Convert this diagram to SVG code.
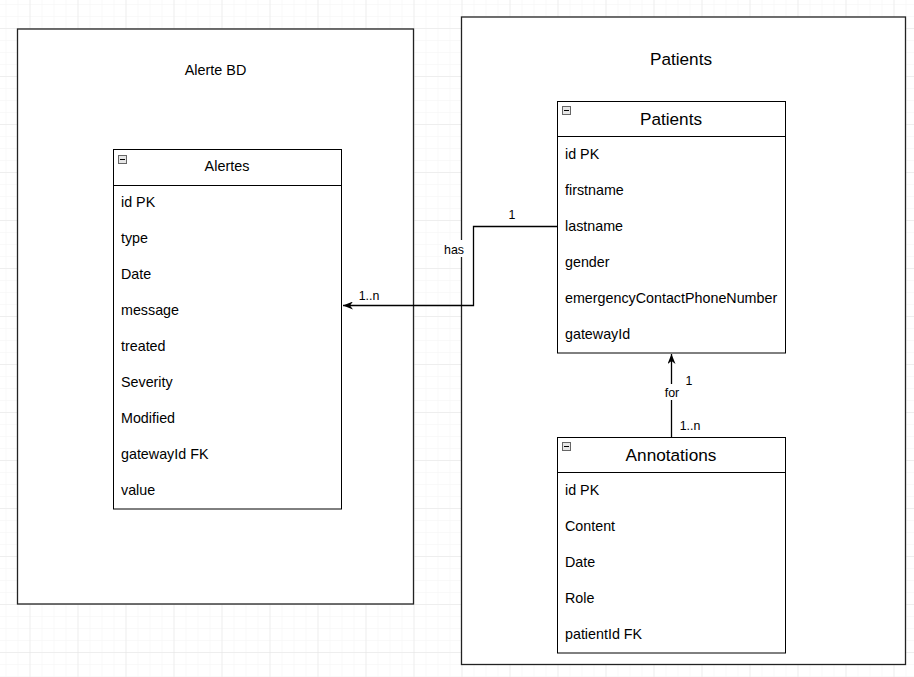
<svg xmlns="http://www.w3.org/2000/svg" width="914" height="677" viewBox="0 0 914 677">
<defs>
<pattern id="minor" x="5.5" y="4" width="12" height="12" patternUnits="userSpaceOnUse">
<path d="M 0 0 L 0 12 M 0 0 L 12 0" fill="none" stroke="#f3f3f3" stroke-width="1"/>
</pattern>
<pattern id="major" x="29.5" y="28" width="48" height="48" patternUnits="userSpaceOnUse">
<path d="M 0 0 L 0 48 M 0 0 L 48 0" fill="none" stroke="#e3e3e3" stroke-width="1"/>
</pattern>
<marker id="arrow" viewBox="0 0 10 8" refX="10" refY="4" markerWidth="10" markerHeight="8" markerUnits="userSpaceOnUse" orient="auto">
<path d="M 0 0 L 10 4 L 0 8 L 3 4 Z" fill="#000"/>
</marker>
<g id="minusIcon">
<rect x="0.5" y="0.5" width="8" height="8" fill="#e6e6e6" stroke="#666" stroke-width="1"/>
<line x1="2" y1="4.5" x2="7" y2="4.5" stroke="#000" stroke-width="1"/>
</g>
</defs>
<style>
text { font-family: "Liberation Sans", Arial, sans-serif; fill: #000; }
.box { fill: #fff; stroke: #000; stroke-width: 1; }
.cont { fill: #fff; stroke: #222; stroke-width: 1.3; }
.row { font-size: 14.3px; }
.hdr { font-size: 17.2px; text-anchor: middle; }
.hdrs { font-size: 14.4px; text-anchor: middle; }
.lbl { font-size: 12.4px; }
.edge { fill: none; stroke: #000; stroke-width: 1.3; }
</style>
<rect width="914" height="677" fill="#fff"/>
<rect width="914" height="677" fill="url(#minor)"/>
<rect width="914" height="677" fill="url(#major)"/>

<g id="container-alerte-bd">
<rect class="cont" x="17.5" y="29" width="396" height="575"/>
<text class="hdrs" x="215.5" y="75">Alerte BD</text>
</g>

<g id="container-patients">
<rect class="cont" x="461.5" y="17" width="444" height="647.5"/>
<text class="hdr" x="681" y="65">Patients</text>
</g>

<g id="table-alertes">
<rect class="box" x="113.5" y="149.5" width="228" height="359.5"/>
<line x1="113.5" y1="185.5" x2="341.5" y2="185.5" stroke="#000"/>
<use href="#minusIcon" x="118" y="155"/>
<text class="hdrs" x="227" y="171">Alertes</text>
<text class="row" x="121" y="207">id PK</text>
<text class="row" x="121" y="243">type</text>
<text class="row" x="121" y="279">Date</text>
<text class="row" x="121" y="315">message</text>
<text class="row" x="121" y="351">treated</text>
<text class="row" x="121" y="387">Severity</text>
<text class="row" x="121" y="423">Modified</text>
<text class="row" x="121" y="459">gatewayId FK</text>
<text class="row" x="121" y="495">value</text>
</g>

<g id="table-patients">
<rect class="box" x="557.5" y="101.5" width="228" height="251.5"/>
<line x1="557.5" y1="136.5" x2="785.5" y2="136.5" stroke="#000"/>
<use href="#minusIcon" x="562" y="106"/>
<text class="hdr" x="671" y="125">Patients</text>
<text class="row" x="565" y="159">id PK</text>
<text class="row" x="565" y="195">firstname</text>
<text class="row" x="565" y="231">lastname</text>
<text class="row" x="565" y="267">gender</text>
<text class="row" x="565" y="303">emergencyContactPhoneNumber</text>
<text class="row" x="565" y="339">gatewayId</text>
</g>

<g id="table-annotations">
<rect class="box" x="557.5" y="437.5" width="228" height="215.5"/>
<line x1="557.5" y1="472.5" x2="785.5" y2="472.5" stroke="#000"/>
<use href="#minusIcon" x="562" y="442"/>
<text class="hdr" x="671" y="461">Annotations</text>
<text class="row" x="565" y="495">id PK</text>
<text class="row" x="565" y="531">Content</text>
<text class="row" x="565" y="567">Date</text>
<text class="row" x="565" y="603">Role</text>
<text class="row" x="565" y="639">patientId FK</text>
</g>

<g id="connectors">
<path class="edge" d="M 557.5 226.5 L 473.5 226.5 L 473.5 305.5 L 343 305.5" marker-end="url(#arrow)"/>
<rect x="442" y="240" width="24" height="17" fill="#fff"/>
<text class="lbl" x="454" y="253.5" text-anchor="middle">has</text>
<text class="lbl" x="512" y="218.5" text-anchor="middle">1</text>
<text class="lbl" x="369" y="299.5" text-anchor="middle">1..n</text>

<path class="edge" d="M 671.5 437.5 L 671.5 354" marker-end="url(#arrow)"/>
<rect x="662" y="384" width="20" height="16" fill="#fff"/>
<text class="lbl" x="672" y="396.5" text-anchor="middle">for</text>
<text class="lbl" x="689" y="384.5" text-anchor="middle">1</text>
<text class="lbl" x="690" y="429.5" text-anchor="middle">1..n</text>
</g>
</svg>
